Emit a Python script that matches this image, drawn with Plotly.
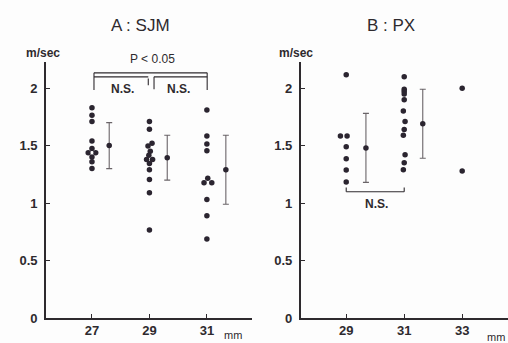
import plotly.graph_objects as go

W, H = 508, 343

# ---------------- data ----------------
# Panel A : SJM  (valve size mm -> velocity m/sec)
a27_vals = [1.83, 1.765, 1.71, 1.54, 1.475, 1.437, 1.437, 1.40, 1.36, 1.30]
a27_x    = [27.0, 27.0, 27.0, 27.0, 27.0, 26.87, 27.13, 27.0, 27.0, 27.0]
a29_vals = [1.71, 1.643, 1.52, 1.496, 1.45, 1.415, 1.38, 1.38, 1.345, 1.29, 1.206, 1.09, 0.765]
a29_x    = [29.0, 29.0, 29.09, 28.95, 29.03, 28.98, 28.9, 29.11, 29.0, 29.0, 29.0, 29.0, 29.0]
a31_vals = [1.81, 1.583, 1.513, 1.455, 1.215, 1.177, 1.177, 1.03, 0.89, 0.687]
a31_x    = [31.0, 31.0, 31.0, 31.0, 31.03, 30.9, 31.17, 31.0, 31.0, 31.0]
a_mean_x = [27.6, 29.62, 31.66]
a_mean   = [1.50, 1.395, 1.29]
a_sd     = [0.20, 0.195, 0.30]

# Panel B : PX
b29_vals = [2.116, 1.583, 1.583, 1.49, 1.385, 1.287, 1.183]
b29_x    = [29.0, 28.8, 29.03, 29.0, 29.0, 29.0, 29.0]
b31_vals = [2.10, 1.99, 1.97, 1.95, 1.90, 1.80, 1.71, 1.64, 1.59, 1.42, 1.35, 1.29]
b31_x    = [31.0, 31.0, 31.0, 31.0, 31.0, 30.97, 31.03, 31.0, 30.97, 31.03, 31.0, 30.97]
b33_vals = [2.0, 1.28]
b33_x    = [33.0, 33.0]
b_mean_x = [29.68, 31.64]
b_mean   = [1.48, 1.69]
b_sd     = [0.30, 0.30]

a_ticks = [27, 29, 31]
b_ticks = [29, 31, 33]
y_ticks = [0, 0.5, 1, 1.5, 2]
y_ticktext = ["0", "0.5", "1", "1.5", "2"]

# ---------------- styling ----------------
INK = "#2e2a2e"
DOT = dict(size=5.5, color="#2b2530")
FONT = "Arial, Liberation Sans, sans-serif"

fig = go.Figure()

def add_points(xs, ys, xa, ya):
    fig.add_trace(go.Scatter(x=xs, y=ys, mode="markers", marker=DOT,
                             xaxis=xa, yaxis=ya, showlegend=False, hoverinfo="skip"))

def add_means(xs, ys, sd, xa, ya):
    fig.add_trace(go.Scatter(x=xs, y=ys, mode="markers", marker=DOT,
                             error_y=dict(type="data", array=sd, visible=True,
                                          color="#6a6468", thickness=1.1, width=3),
                             xaxis=xa, yaxis=ya, showlegend=False, hoverinfo="skip"))

add_points(a27_x, a27_vals, "x", "y")
add_points(a29_x, a29_vals, "x", "y")
add_points(a31_x, a31_vals, "x", "y")
add_means(a_mean_x, a_mean, a_sd, "x", "y")

add_points(b29_x, b29_vals, "x2", "y2")
add_points(b31_x, b31_vals, "x2", "y2")
add_points(b33_x, b33_vals, "x2", "y2")
add_means(b_mean_x, b_mean, b_sd, "x2", "y2")

# open-centre dot in the 27 mm cluster (white centre)
fig.add_trace(go.Scatter(x=[27.0], y=[1.437], mode="markers",
                         marker=dict(size=3, color="white"),
                         xaxis="x", yaxis="y", showlegend=False, hoverinfo="skip"))

axis_common = dict(showgrid=False, zeroline=False, showline=True, linecolor=INK,
                   linewidth=1.6, ticks="inside", ticklen=4, tickcolor=INK,
                   tickwidth=1, automargin=False,
                   tickfont=dict(family=FONT, size=13, color=INK, weight="bold"))

fig.update_layout(
    width=W, height=H,
    margin=dict(l=0, r=0, t=0, b=0),
    paper_bgcolor="#fdfdfd", plot_bgcolor="#fdfdfd",
    template="none",
    xaxis=dict(domain=[46 / W, 252 / W], range=[25.4, 32.57],
               tickvals=a_ticks, ticktext=[str(t) for t in a_ticks],
               anchor="y", **axis_common),
    yaxis=dict(domain=[25 / H, 281.3 / H], range=[0, 2.23],
               tickvals=y_ticks, ticktext=y_ticktext, anchor="x",
               ticklabelstandoff=4, **axis_common),
    xaxis2=dict(domain=[300.7 / W, 1.0], range=[27.43, 34.58],
                tickvals=b_ticks, ticktext=[str(t) for t in b_ticks],
                anchor="y2", **axis_common),
    yaxis2=dict(domain=[25 / H, 281.3 / H], range=[0, 2.23],
                tickvals=y_ticks, ticktext=y_ticktext, anchor="x2",
                ticklabelstandoff=4, **axis_common),
)

line = dict(color=INK, width=1.1)
shapes = []
# Panel A brackets
def seg(x0, y0, x1, y1, xr, yr):
    shapes.append(dict(type="line", x0=x0, y0=y0, x1=x1, y1=y1,
                       xref=xr, yref=yr, line=line))

seg(27.07, 2.133, 31.01, 2.133, "x", "y")      # P<0.05 top line
seg(27.07, 2.133, 27.07, 1.983, "x", "y")
seg(31.01, 2.133, 31.01, 1.983, "x", "y")
seg(27.07, 2.098, 28.96, 2.098, "x", "y")      # N.S. 27-29
seg(28.96, 2.084, 28.96, 2.026, "x", "y")
seg(29.16, 2.098, 31.01, 2.098, "x", "y")      # N.S. 29-31
seg(29.16, 2.098, 29.16, 1.99, "x", "y")
# Panel B bracket
seg(29.0, 1.098, 31.0, 1.098, "x2", "y2")
seg(29.0, 1.098, 29.0, 1.135, "x2", "y2")
seg(31.0, 1.098, 31.0, 1.135, "x2", "y2")
fig.update_layout(shapes=shapes)

def txt(text, px, py, size, bold=True, xanchor="center"):
    fig.add_annotation(text=text, x=px / W, y=1 - py / H, xref="paper", yref="paper",
                       showarrow=False, xanchor=xanchor, yanchor="middle",
                       font=dict(family=FONT, size=size, color=INK,
                                 weight="bold" if bold else "normal"))

txt("A : SJM", 140, 25, 17, bold=False)
txt("B : PX", 391, 25, 17, bold=False)
txt("m/sec", 43, 53, 12)
txt("m/sec", 296, 53, 12)
txt("P < 0.05", 152, 59, 12, bold=False)
txt("N.S.", 122, 89, 12)
txt("N.S.", 178, 89, 12)
txt("N.S.", 376, 204, 12)
txt("mm", 233, 335, 11, bold=False)
txt("mm", 496, 337, 11, bold=False)

fig.write_html("out.html")
